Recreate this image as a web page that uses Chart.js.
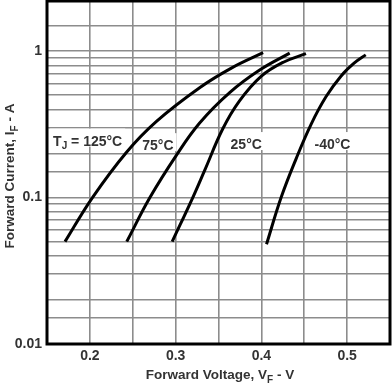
<!DOCTYPE html>
<html><head><meta charset="utf-8">
<script src="https://cdn.jsdelivr.net/npm/chart.js@4/dist/chart.umd.min.js"></script>
<style>html,body{margin:0;padding:0;background:#fff;}#wrap{width:392px;height:392px;}</style>
</head><body><div id="wrap"><canvas id="c" width="392" height="392"></canvas></div>
<script>
const seriesNames = ['125°C', '75°C', '25°C', '-40°C'];
const voltsT125 = [0.171, 0.203, 0.243, 0.278, 0.328, 0.365, 0.402];
const ampsT125  = [0.050, 0.100, 0.205, 0.333, 0.563, 0.766, 0.976];
const voltsT75  = [0.243, 0.270, 0.301, 0.328, 0.363, 0.398, 0.433];
const ampsT75   = [0.050, 0.100, 0.195, 0.323, 0.521, 0.743, 0.970];
const voltsT25  = [0.296, 0.320, 0.334, 0.355, 0.3745, 0.3997, 0.4256, 0.452];
const ampsT25   = [0.050, 0.100, 0.154, 0.295, 0.4575, 0.6727, 0.840, 0.961];
const voltsTm40 = [0.406, 0.423, 0.4407, 0.4581, 0.4755, 0.493, 0.5081, 0.5217];
const ampsTm40  = [0.048, 0.100, 0.1853, 0.3178, 0.4896, 0.677, 0.827, 0.943];
const yGridValues = [0.01,0.015,0.02,0.03,0.04,0.05,0.06,0.07,0.08,0.09,0.1,0.15,0.2,0.3,0.4,0.5,0.6,0.7,0.8,0.9,1,1.5];
const yTickLabels = ['0.01','0.1','1'];
const xTickLabels = ['0.2','0.3','0.4','0.5'];
const labelTexts = ['T', '75°C', '25°C', '-40°C'];
const labelVolts = [0.1974, 0.2793, 0.3823, 0.4829];
const labelAmps  = [0.245, 0.228, 0.232, 0.232];

const FONT = '"Liberation Sans", Arial, sans-serif';
const TXT = '#333';
const toPts = (xs, ys) => xs.map((x, i) => ({x: x, y: ys[i]}));
const mk = (xs, ys, name) => ({label: name, data: toPts(xs, ys), borderColor: '#000', borderWidth: 3,
  pointRadius: 0, tension: 0.4, fill: false, borderCapStyle: 'butt'});

function subText(ctx, parts, cx, cy, size, subSize) {
  let w = 0;
  parts.forEach(p => { ctx.font = 'bold ' + (p[1] ? subSize : size) + 'px ' + FONT; w += ctx.measureText(p[0]).width; });
  let x = cx - w / 2;
  parts.forEach(p => {
    ctx.font = 'bold ' + (p[1] ? subSize : size) + 'px ' + FONT;
    ctx.fillText(p[0], x, cy + (p[1] ? 3.5 : 0));
    x += ctx.measureText(p[0]).width;
  });
  return w;
}

const deco = {
  id: 'deco',
  beforeDatasetsDraw(chart) {
    const ctx = chart.ctx, xs = chart.scales.x, ys = chart.scales.y;
    ctx.save();
    ctx.textBaseline = 'alphabetic';
    labelTexts.forEach((t, i) => {
      const cx = xs.getPixelForValue(labelVolts[i]);
      const cy = ys.getPixelForValue(labelAmps[i]);
      const parts = i === 0 ? [['T', false], ['J', true], [' = 125°C', false]] : [[t, false]];
      let w = 0;
      parts.forEach(p => { ctx.font = 'bold ' + (p[1] ? 10 : 14) + 'px ' + FONT; w += ctx.measureText(p[0]).width; });
      ctx.fillStyle = '#fff';
      ctx.fillRect(cx - w / 2 - 3, cy - 12, w + 6, 18);
      ctx.fillStyle = TXT;
      subText(ctx, parts, cx, cy + 5, 14, 10);
    });
    ctx.restore();
  },
  afterDraw(chart) {
    const ctx = chart.ctx, a = chart.chartArea;
    ctx.save();
    ctx.strokeStyle = '#000';
    ctx.lineWidth = 3;
    ctx.strokeRect(a.left, a.top, a.right - a.left, a.bottom - a.top);
    ctx.fillStyle = TXT;
    ctx.textBaseline = 'alphabetic';
    subText(ctx, [['Forward Voltage, V', false], ['F', true], [' - V', false]], 220, 379, 13.5, 10);
    ctx.translate(14, 176);
    ctx.rotate(-Math.PI / 2);
    subText(ctx, [['Forward Current, I', false], ['F', true], [' - A', false]], 0, 0, 13.5, 10);
    ctx.restore();
  }
};

new Chart(document.getElementById('c'), {
  type: 'line',
  data: { datasets: [
    mk(voltsT125, ampsT125, seriesNames[0]),
    mk(voltsT75, ampsT75, seriesNames[1]),
    mk(voltsT25, ampsT25, seriesNames[2]),
    mk(voltsTm40, ampsTm40, seriesNames[3])
  ]},
  options: {
    responsive: false, animation: false, devicePixelRatio: 1,
    layout: { padding: { top: 1, right: 2, left: 0, bottom: 0 } },
    plugins: { legend: { display: false }, tooltip: { enabled: false } },
    scales: {
      x: {
        type: 'linear', min: 0.15, max: 0.55,
        ticks: { stepSize: 0.05, autoSkip: false, maxRotation: 0, padding: 4, color: TXT,
          font: { family: FONT, size: 14, weight: 'bold' },
          callback: (v) => { const s = Number(v).toFixed(2); const l = xTickLabels.find(t => Number(t).toFixed(2) === s); return l || ''; } },
        grid: { color: '#8c8c8c', lineWidth: 1.6, drawTicks: false },
        border: { display: false },
        afterFit: (s) => { s.height = 48; s.paddingLeft = 0; s.paddingRight = 0; }
      },
      y: {
        type: 'logarithmic', min: 0.01, max: 2.2,
        afterBuildTicks: (s) => { s.ticks = yGridValues.map(v => ({ value: v })); },
        ticks: { autoSkip: false, padding: 5, color: TXT,
          font: { family: FONT, size: 14, weight: 'bold' },
          callback: (v) => { const l = yTickLabels.find(t => Math.abs(Number(t) - v) < 1e-9); return l || ''; } },
        grid: { color: '#8c8c8c', lineWidth: 1.6, drawTicks: false },
        border: { display: false },
        afterFit: (s) => { s.width = 47; s.paddingTop = 0; s.paddingBottom = 0; }
      }
    }
  },
  plugins: [deco]
});
</script></body></html>
